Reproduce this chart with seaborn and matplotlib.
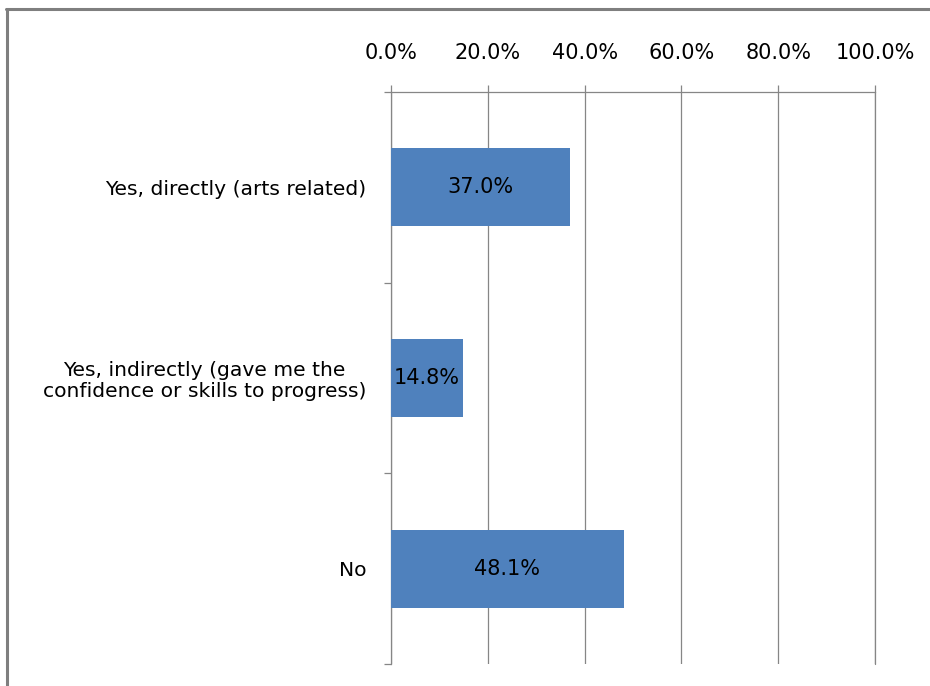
import matplotlib
matplotlib.use("Agg")
import matplotlib.pyplot as plt
from matplotlib.lines import Line2D
from matplotlib.ticker import FixedLocator
import seaborn as sns
import pandas as pd

# Survey responses and their shares (%)
categories = [
    "Yes, directly (arts related)",
    "Yes, indirectly (gave me the\nconfidence or skills to progress)",
    "No",
]
shares = [37.0, 14.8, 48.1]
x_ticks = [0, 20, 40, 60, 80, 100]
x_tick_labels = ["0.0%", "20.0%", "40.0%", "60.0%", "80.0%", "100.0%"]

df = pd.DataFrame({"response": categories, "share": shares})

sns.set_theme(style="white")
plt.rcParams["font.family"] = ["DejaVu Sans"]

W, H = 930, 686
fig = plt.figure(figsize=(W / 100, H / 100), dpi=100)
ax = fig.add_axes([391 / W, 1 - 664 / H, (875 - 391) / W, (664 - 92) / H])

BAR_COLOR = "#4F81BD"
GRID = "#868686"
FS = 15
FS_CAT = 14.6

sns.barplot(data=df, x="share", y="response", orient="h", color=BAR_COLOR,
            width=0.41, saturation=1, linewidth=0, ax=ax, zorder=3)

ax.set_xlim(0, 100)
ax.set_ylim(2.5, -0.5)
ax.set_xlabel("")
ax.set_ylabel("")

# value axis on top with vertical gridlines
ax.xaxis.tick_top()
ax.set_xticks(x_ticks)
ax.set_xticklabels(x_tick_labels, fontsize=FS)
ax.tick_params(axis="x", which="major", direction="out", length=5, width=0.9,
               color=GRID, pad=16, labelcolor="black")
ax.grid(axis="x", color=GRID, linewidth=0.9, zorder=0)
ax.axvline(100, color=GRID, linewidth=0.9, clip_on=False, zorder=0)
ax.set_axisbelow(True)

# category axis: boundary tick marks between categories
ax.yaxis.set_minor_locator(FixedLocator([-0.5, 0.5, 1.5, 2.5]))
ax.tick_params(axis="y", which="major", length=0, pad=18, labelsize=FS_CAT,
               labelcolor="black")
ax.tick_params(axis="y", which="minor", direction="out", length=5, width=0.9,
               color=GRID, left=True)
for lbl in ax.get_yticklabels():
    lbl.set_multialignment("center")
    lbl.set_linespacing(1.15)

for side in ["right", "bottom"]:
    ax.spines[side].set_visible(False)
for side in ["top", "left"]:
    ax.spines[side].set_color(GRID)
    ax.spines[side].set_linewidth(0.9)

# value labels centred in each bar
for i, v in enumerate(shares):
    ax.text(v / 2, i, f"{v:.1f}%", ha="center", va="center",
            fontsize=FS, color="black", zorder=4)

# chart-area border
border = "#7F7F7F"
fig.add_artist(Line2D([7 / W, 7 / W], [0, 1 - 8.5 / H], transform=fig.transFigure,
                      color=border, linewidth=2.2))
fig.add_artist(Line2D([6 / W, 1], [1 - 9 / H, 1 - 9 / H], transform=fig.transFigure,
                      color=border, linewidth=2.2))

fig.savefig("out.png", dpi=100, facecolor="white")
